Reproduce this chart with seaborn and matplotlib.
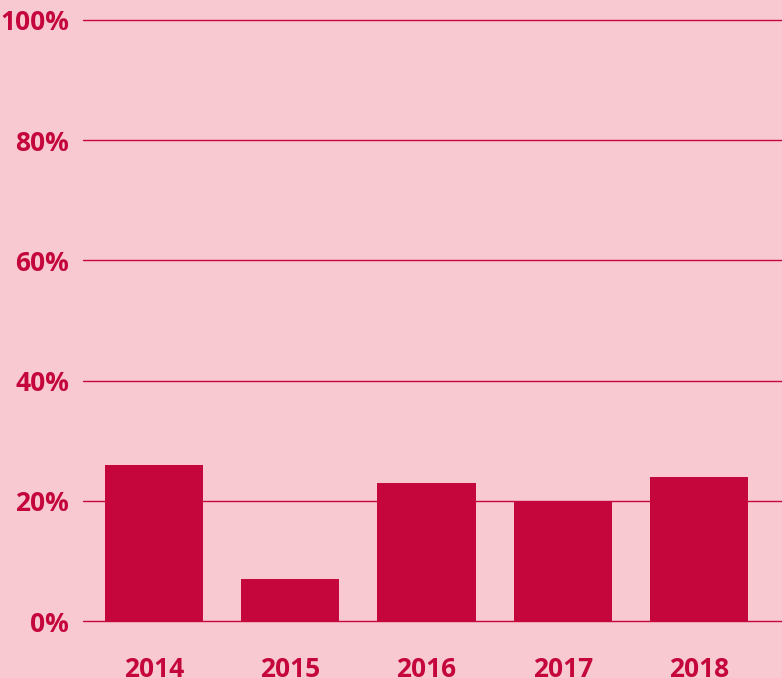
import seaborn as sns
import matplotlib.pyplot as plt
import pandas as pd

# данные
years = ['2014', '2015', '2016', '2017', '2018']
shares = [26, 7, 23, 20, 24]
yticks = [0, 20, 40, 60, 80, 100]

bg = '#f9c9d1'
red = '#c4063c'

sns.set_style('white')
plt.rcParams['font.family'] = ['Open Sans', 'DejaVu Sans']

df = pd.DataFrame({'year': years, 'share': shares})

fig = plt.figure(figsize=(7.82, 6.78), dpi=100, facecolor=bg)
ax = fig.add_axes([83 / 782, 57 / 678, 699 / 782, 601 / 678])
ax.set_facecolor(bg)

sns.barplot(data=df, x='year', y='share', color=red, saturation=1,
            width=0.72, linewidth=0, edgecolor='none', ax=ax, zorder=3)

ax.set_ylim(0, 100)
ax.set_xlim(-0.521, 4.609)
ax.set_yticks(yticks)
ax.set_yticklabels([f'{t}%' for t in yticks])
ax.yaxis.grid(True, color=red, linewidth=1, zorder=0)
for gl in ax.get_ygridlines():
    gl.set_clip_on(False)
ax.set_axisbelow(True)
for s in ax.spines.values():
    s.set_visible(False)
ax.tick_params(length=0, labelsize=19, labelcolor=red)
ax.tick_params(axis='y', pad=10)
ax.tick_params(axis='x', pad=25)
for lab in ax.get_xticklabels() + ax.get_yticklabels():
    lab.set_fontweight('bold')
ax.set_xlabel('')
ax.set_ylabel('')

plt.savefig('out.png', dpi=100, facecolor=bg)
